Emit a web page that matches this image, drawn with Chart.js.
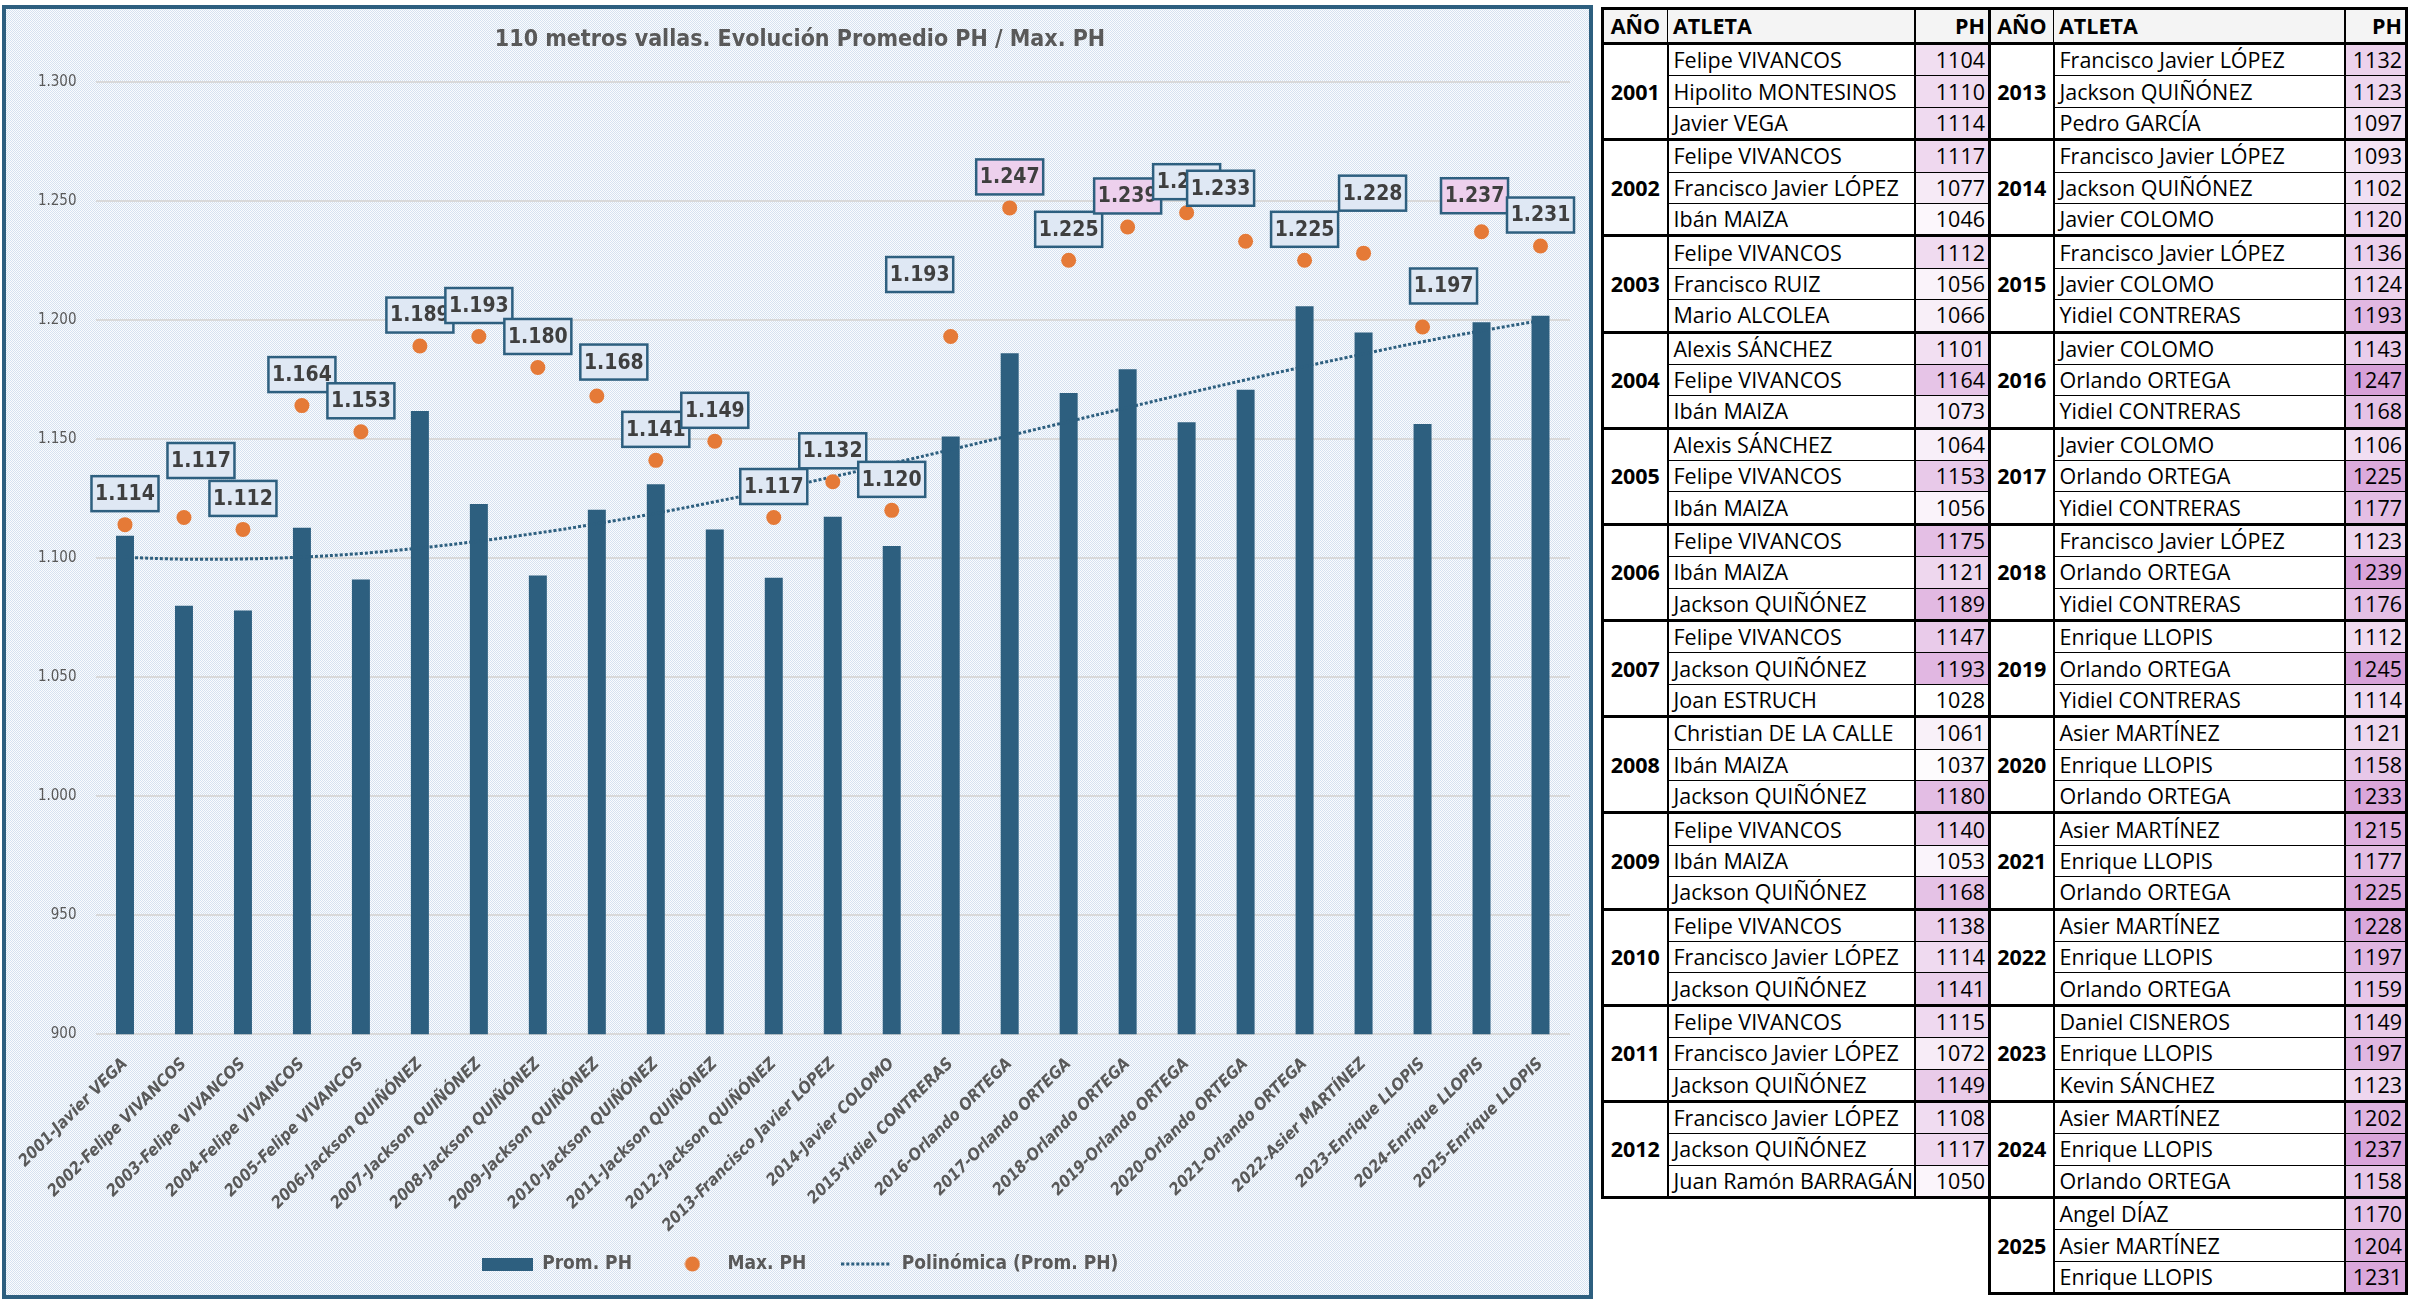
<!DOCTYPE html>
<html lang="es">
<head>
<meta charset="utf-8">
<title>110 metros vallas. Evolución Promedio PH / Max. PH</title>
<script src="https://cdn.jsdelivr.net/npm/chart.js@4.4.1/dist/chart.umd.min.js"></script>
<style>
  html, body { margin:0; padding:0; background:#ffffff; }
  body { width:2418px; height:1312px; position:relative; overflow:hidden; }
  #chartBox { position:absolute; left:2px; top:5px; width:1591px; height:1294px; box-sizing:border-box;
    border:4px solid #2d5f7f;
    background: repeating-conic-gradient(#d6e2f0 0 25%, #fafcfe 0 50%) 0 0 / 2px 2px; }
  #chartBox canvas { display:block; }
  table.ph { position:absolute; top:7px; border-collapse:collapse; table-layout:fixed;
    font-family:'Open Sans','Noto Sans',sans-serif; font-size:21.5px; color:#000; border:3px solid #000; }
  table.ph th, table.ph td { height:30.4px; padding:0 5px; border:1.5px solid #000; line-height:26px;
    white-space:nowrap; overflow:hidden; }
  table.ph th { font-weight:700; background:#f4f4f4; height:32px; text-align:left; }
  table.ph th.c { text-align:center; }
  table.ph tr.grp td { border-top:3px solid #000; }
  table.ph td.yr { font-weight:700; text-align:center; border-right:2px solid #000; }
  table.ph td.num, table.ph th.num { text-align:right; padding-right:3px; border-left:2px solid #000; }
</style>
</head>
<body>
<div id="chartBox"><canvas id="c" width="1583" height="1286"></canvas></div>
<script>
// ---------- chart data ----------
const categories = [
  '2001-Javier VEGA', '2002-Felipe VIVANCOS', '2003-Felipe VIVANCOS', '2004-Felipe VIVANCOS',
  '2005-Felipe VIVANCOS', '2006-Jackson QUIÑÓNEZ', '2007-Jackson QUIÑÓNEZ', '2008-Jackson QUIÑÓNEZ',
  '2009-Jackson QUIÑÓNEZ', '2010-Jackson QUIÑÓNEZ', '2011-Jackson QUIÑÓNEZ', '2012-Jackson QUIÑÓNEZ',
  '2013-Francisco Javier LÓPEZ', '2014-Javier COLOMO', '2015-Yidiel CONTRERAS', '2016-Orlando ORTEGA',
  '2017-Orlando ORTEGA', '2018-Orlando ORTEGA', '2019-Orlando ORTEGA', '2020-Orlando ORTEGA',
  '2021-Orlando ORTEGA', '2022-Asier MARTÍNEZ', '2023-Enrique LLOPIS', '2024-Enrique LLOPIS',
  '2025-Enrique LLOPIS'
];
const promPH = [1109.3, 1080.0, 1078.0, 1112.7, 1091.0, 1161.7, 1122.7, 1092.7, 1120.3, 1131.0,
  1112.0, 1091.7, 1117.3, 1105.0, 1151.0, 1186.0, 1169.3, 1179.3, 1157.0, 1170.7,
  1205.7, 1194.7, 1156.3, 1199.0, 1201.7];
const maxPH = [1114, 1117, 1112, 1164, 1153, 1189, 1193, 1180, 1168, 1141,
  1149, 1117, 1132, 1120, 1193, 1247, 1225, 1239, 1245, 1233,
  1225, 1228, 1197, 1237, 1231];
const trendPH = [1100.3, 1099.5, 1099.6, 1100.4, 1101.9, 1104.2, 1107.1, 1110.5, 1114.4, 1118.8,
  1123.6, 1128.7, 1134.1, 1139.7, 1145.5, 1151.4, 1157.3, 1163.2, 1169.1, 1174.8,
  1180.4, 1185.7, 1190.8, 1195.4, 1199.7];
const seriesNames = ['Prom. PH', 'Max. PH', 'Polinómica (Prom. PH)'];
const chartTitle = '110 metros vallas. Evolución Promedio PH / Max. PH';
const yMin = 900, yMax = 1300, yStep = 50;

// ---------- table data ----------
const tableYears = [2001, 2002, 2003, 2004, 2005, 2006, 2007, 2008, 2009, 2010, 2011, 2012,
  2013, 2014, 2015, 2016, 2017, 2018, 2019, 2020, 2021, 2022, 2023, 2024, 2025];
const tableAthletes = [
  ['Felipe VIVANCOS', 'Hipolito MONTESINOS', 'Javier VEGA'],
  ['Felipe VIVANCOS', 'Francisco Javier LÓPEZ', 'Ibán MAIZA'],
  ['Felipe VIVANCOS', 'Francisco RUIZ', 'Mario ALCOLEA'],
  ['Alexis SÁNCHEZ', 'Felipe VIVANCOS', 'Ibán MAIZA'],
  ['Alexis SÁNCHEZ', 'Felipe VIVANCOS', 'Ibán MAIZA'],
  ['Felipe VIVANCOS', 'Ibán MAIZA', 'Jackson QUIÑÓNEZ'],
  ['Felipe VIVANCOS', 'Jackson QUIÑÓNEZ', 'Joan ESTRUCH'],
  ['Christian DE LA CALLE', 'Ibán MAIZA', 'Jackson QUIÑÓNEZ'],
  ['Felipe VIVANCOS', 'Ibán MAIZA', 'Jackson QUIÑÓNEZ'],
  ['Felipe VIVANCOS', 'Francisco Javier LÓPEZ', 'Jackson QUIÑÓNEZ'],
  ['Felipe VIVANCOS', 'Francisco Javier LÓPEZ', 'Jackson QUIÑÓNEZ'],
  ['Francisco Javier LÓPEZ', 'Jackson QUIÑÓNEZ', 'Juan Ramón BARRAGÁN'],
  ['Francisco Javier LÓPEZ', 'Jackson QUIÑÓNEZ', 'Pedro GARCÍA'],
  ['Francisco Javier LÓPEZ', 'Jackson QUIÑÓNEZ', 'Javier COLOMO'],
  ['Francisco Javier LÓPEZ', 'Javier COLOMO', 'Yidiel CONTRERAS'],
  ['Javier COLOMO', 'Orlando ORTEGA', 'Yidiel CONTRERAS'],
  ['Javier COLOMO', 'Orlando ORTEGA', 'Yidiel CONTRERAS'],
  ['Francisco Javier LÓPEZ', 'Orlando ORTEGA', 'Yidiel CONTRERAS'],
  ['Enrique LLOPIS', 'Orlando ORTEGA', 'Yidiel CONTRERAS'],
  ['Asier MARTÍNEZ', 'Enrique LLOPIS', 'Orlando ORTEGA'],
  ['Asier MARTÍNEZ', 'Enrique LLOPIS', 'Orlando ORTEGA'],
  ['Asier MARTÍNEZ', 'Enrique LLOPIS', 'Orlando ORTEGA'],
  ['Daniel CISNEROS', 'Enrique LLOPIS', 'Kevin SÁNCHEZ'],
  ['Asier MARTÍNEZ', 'Enrique LLOPIS', 'Orlando ORTEGA'],
  ['Angel DÍAZ', 'Asier MARTÍNEZ', 'Enrique LLOPIS']
];
const tablePH = [
  [1104, 1110, 1114], [1117, 1077, 1046], [1112, 1056, 1066], [1101, 1164, 1073],
  [1064, 1153, 1056], [1175, 1121, 1189], [1147, 1193, 1028], [1061, 1037, 1180],
  [1140, 1053, 1168], [1138, 1114, 1141], [1115, 1072, 1149], [1108, 1117, 1050],
  [1132, 1123, 1097], [1093, 1102, 1120], [1136, 1124, 1193], [1143, 1247, 1168],
  [1106, 1225, 1177], [1123, 1239, 1176], [1112, 1245, 1114], [1121, 1158, 1233],
  [1215, 1177, 1225], [1228, 1197, 1159], [1149, 1197, 1123], [1202, 1237, 1158],
  [1170, 1204, 1231]
];
const tableHeaders = ['AÑO', 'ATLETA', 'PH'];

// ---------- styling (not data) ----------
const FONT = "'DejaVu Sans Condensed', 'Roboto Condensed', Roboto, sans-serif";
const BAR = '#2d5f7f', ORANGE = '#e57a37', GREY = '#595959';
const pinkLabelIdx = [15, 17, 23];
const labelShift = [[0,-31],[17,-57],[0,-31],[0,-31],[0,-31],[0,-31],[0,-31],[0,-31],[17,-34],[0,-31],
  [0,-31],[0,-31],[0,-31],[0,-31],[-31,-62],[0,-31],[0,-31],[0,-31],[0,-31],[-25,-53],
  [0,-31],[9,-60],[21,-41],[-7,-36],[0,-31]];

function fmt(v) {
  const s = String(Math.round(v));
  return s.length > 3 ? s.slice(0, -3) + '.' + s.slice(-3) : s;
}

// legend symbols
function mkCanvas(w, h, draw) { const c = document.createElement('canvas'); c.width = w; c.height = h; draw(c.getContext('2d')); return c; }
const symRect = mkCanvas(51, 13, g => { g.fillStyle = BAR; g.fillRect(0, 0, 51, 13); });
const symDot = mkCanvas(16, 16, g => { g.fillStyle = ORANGE; g.beginPath(); g.arc(8, 8, 7.5, 0, Math.PI * 2); g.fill(); });
const symLine = mkCanvas(51, 4, g => { g.fillStyle = BAR; for (let x = 0; x < 50; x += 5) g.fillRect(x, 0.5, 3, 3); });

const labelPlugin = {
  id: 'maxLabels',
  afterDatasetsDraw(chart) {
    const meta = chart.getDatasetMeta(0);
    const ctx = chart.ctx;
    ctx.save();
    ctx.font = 'bold 21px ' + FONT;
    ctx.textAlign = 'center';
    ctx.textBaseline = 'middle';
    meta.data.forEach((pt, i) => {
      const cx = pt.x + labelShift[i][0], cy = pt.y + labelShift[i][1];
      const w = 67, h = 35;
      ctx.fillStyle = pinkLabelIdx.includes(i) ? '#edd0ed' : '#dfe8f4';
      ctx.fillRect(cx - w / 2, cy - h / 2, w, h);
      ctx.lineWidth = 2.5;
      ctx.strokeStyle = BAR;
      ctx.strokeRect(cx - w / 2, cy - h / 2, w, h);
      ctx.fillStyle = '#3f3f3f';
      ctx.fillText(fmt(maxPH[i]), cx, cy + 1);
    });
    ctx.restore();
  }
};

new Chart(document.getElementById('c'), {
  type: 'bar',
  data: {
    labels: categories,
    datasets: [
      { type: 'line', label: seriesNames[1], data: maxPH, showLine: false, pointRadius: 7.5, pointHoverRadius: 7.5,
        pointBackgroundColor: ORANGE, pointBorderWidth: 0, backgroundColor: ORANGE, borderColor: ORANGE, order: 0 },
      { type: 'line', label: seriesNames[2], data: trendPH, borderColor: BAR, borderWidth: 3, borderDash: [3, 2],
        pointRadius: 0, tension: 0.4, fill: false, order: 1 },
      { type: 'bar', label: seriesNames[0], data: promPH, backgroundColor: BAR, borderWidth: 0,
        barPercentage: 0.305, categoryPercentage: 1, order: 2 }
    ]
  },
  options: {
    responsive: false,
    animation: false,
    devicePixelRatio: 1,
    layout: { padding: { left: 24, right: 19, top: 0, bottom: 11.5 } },
    plugins: {
      tooltip: { enabled: false },
      title: { display: true, text: chartTitle, color: GREY,
        font: { family: FONT, size: 23, weight: 'bold' }, padding: { top: 17, bottom: 28.1 } },
      legend: {
        display: true, position: 'bottom',
        labels: {
          usePointStyle: true, pointStyleWidth: 51, boxHeight: 19, padding: 35, color: GREY,
          font: { family: FONT, size: 19, weight: 'bold' },
          generateLabels: () => [
            { text: seriesNames[0], pointStyle: symRect, fillStyle: BAR, strokeStyle: BAR, lineWidth: 0, fontColor: GREY, hidden: false, datasetIndex: 2 },
            { text: seriesNames[1], pointStyle: symDot, fillStyle: ORANGE, strokeStyle: ORANGE, lineWidth: 0, fontColor: GREY, hidden: false, datasetIndex: 0 },
            { text: seriesNames[2], pointStyle: symLine, fillStyle: BAR, strokeStyle: BAR, lineWidth: 0, fontColor: GREY, hidden: false, datasetIndex: 1 }
          ]
        }
      }
    },
    scales: {
      x: {
        offset: true,
        grid: { display: false },
        border: { display: false },
        ticks: { autoSkip: false, maxRotation: 45, minRotation: 45, padding: 12, color: GREY,
          font: { family: FONT, size: 16.5, weight: 'bold', style: 'italic' } },
        afterFit: s => { s.height = 185.2; s._computeLabelArea = () => null; }
      },
      y: {
        min: yMin, max: yMax,
        grid: { color: '#d9d9d9', lineWidth: 2, drawTicks: false },
        border: { display: false },
        ticks: { stepSize: yStep, padding: 19, color: GREY, font: { family: FONT, size: 15 },
          callback: v => fmt(v) },
        afterFit: s => { s.width = 65.5; }
      }
    }
  },
  plugins: [labelPlugin]
});

// ---------- tables ----------
function phColor(v) {
  const t = Math.max(0, Math.min(1, (v - 1028) / (1247 - 1028)));
  const a = [255, 255, 255], b = [215, 160, 216];
  return 'rgb(' + a.map((x, k) => Math.round(x + (b[k] - x) * t)).join(',') + ')';
}
function buildTable(from, to, left, widths) {
  const t = document.createElement('table');
  t.className = 'ph';
  t.style.left = left + 'px';
  t.style.width = widths.reduce((a, b) => a + b, 0) + 'px';
  const cg = document.createElement('colgroup');
  widths.forEach(w => { const c = document.createElement('col'); c.style.width = w + 'px'; cg.appendChild(c); });
  t.appendChild(cg);
  const hr = document.createElement('tr');
  tableHeaders.forEach((h, k) => {
    const th = document.createElement('th');
    th.textContent = h;
    if (k === 0) th.className = 'c';
    if (k === 2) th.className = 'num';
    hr.appendChild(th);
  });
  t.appendChild(hr);
  for (let i = from; i < to; i++) {
    for (let k = 0; k < 3; k++) {
      const tr = document.createElement('tr');
      if (k === 0) {
        tr.className = 'grp';
        const y = document.createElement('td');
        y.className = 'yr'; y.rowSpan = 3; y.textContent = tableYears[i];
        tr.appendChild(y);
      }
      const n = document.createElement('td');
      n.textContent = tableAthletes[i][k];
      tr.appendChild(n);
      const p = document.createElement('td');
      p.className = 'num';
      p.textContent = tablePH[i][k];
      p.style.background = phColor(tablePH[i][k]);
      tr.appendChild(p);
      t.appendChild(tr);
    }
  }
  document.body.appendChild(t);
}
buildTable(0, 12, 1601, [65, 247, 75]);
buildTable(12, 25, 1988, [64, 291, 62]);
</script>
</body>
</html>
